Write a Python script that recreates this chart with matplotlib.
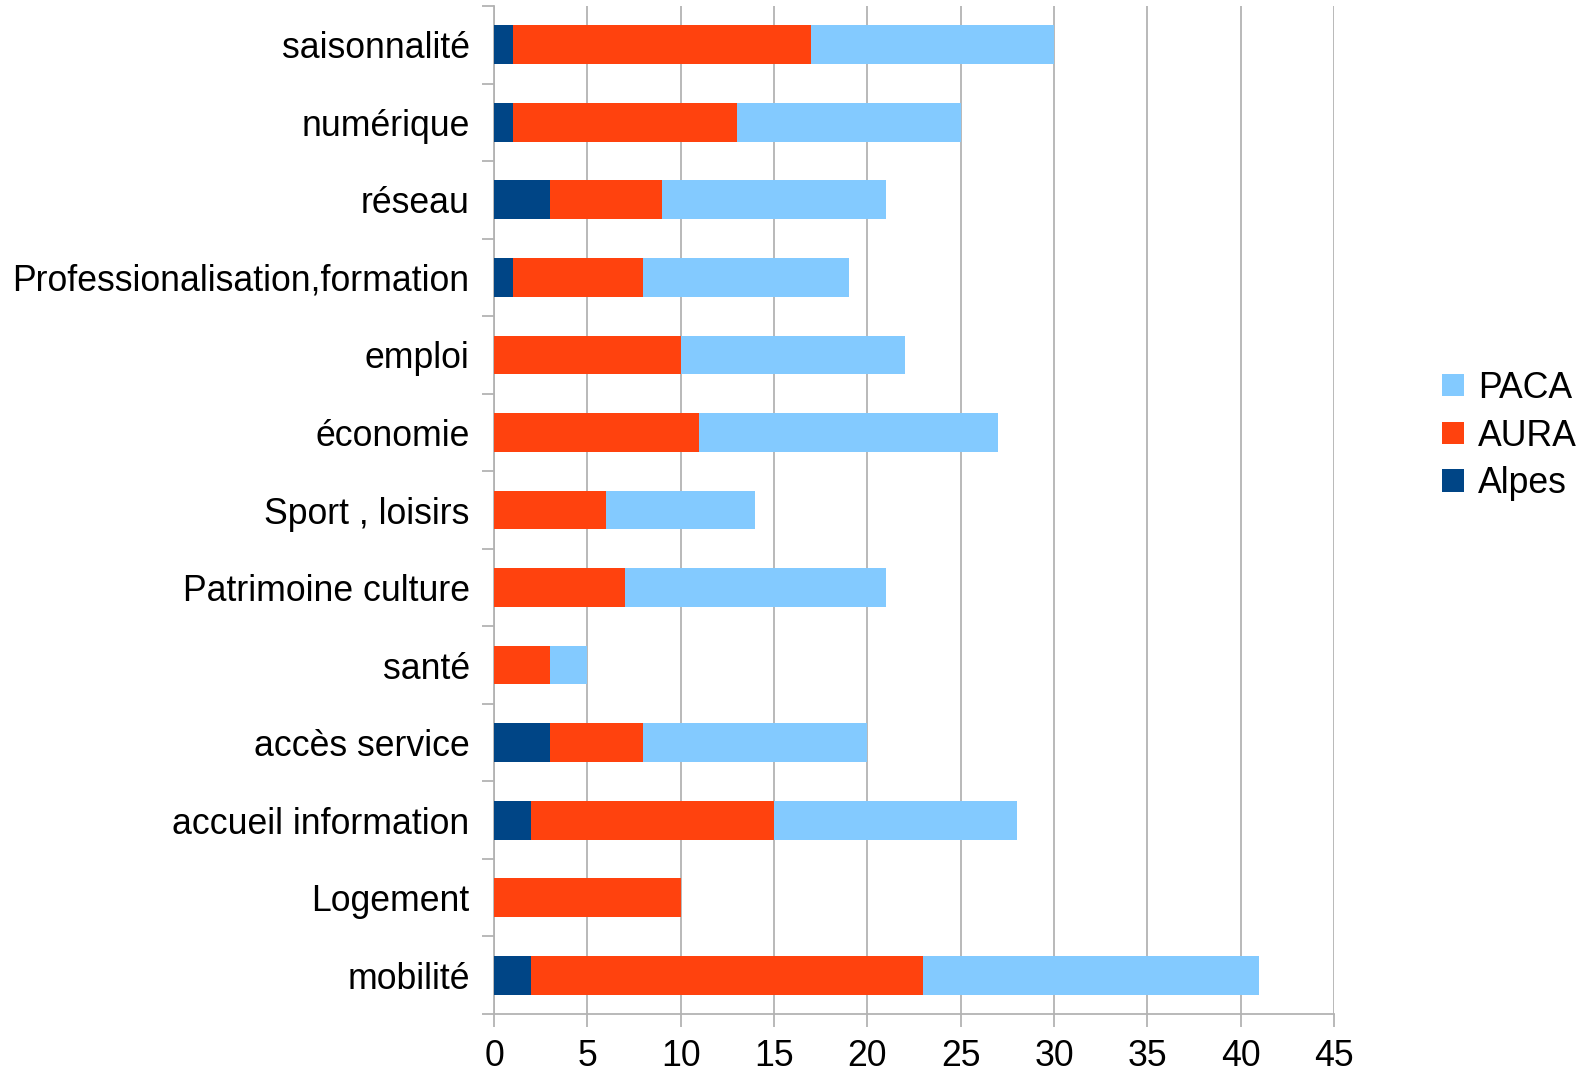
import matplotlib.pyplot as plt
from matplotlib.patches import Patch
import numpy as np

plt.rcParams["font.family"] = ["Liberation Sans", "DejaVu Sans"]

# categories, top to bottom
categories = [
    "saisonnalité", "numérique", "réseau", "Professionalisation,formation",
    "emploi", "économie", "Sport , loisirs", "Patrimoine culture", "santé",
    "accès service", "accueil information", "Logement", "mobilité",
]
alpes = [1, 1, 3, 1, 0, 0, 0, 0, 0, 3, 2, 0, 2]
aura = [16, 12, 6, 7, 10, 11, 6, 7, 3, 5, 13, 10, 21]
paca = [13, 12, 12, 11, 12, 16, 8, 14, 2, 12, 13, 0, 18]

C_ALPES = "#004586"
C_AURA = "#FF420E"
C_PACA = "#83CAFF"
GRID = "#b3b3b3"
FS = 25.7

fig = plt.figure(figsize=(15.77, 10.77), dpi=100)
ax = fig.add_axes([494 / 1577, 1 - 1014 / 1077, 840 / 1577, 1008 / 1077])

y = np.arange(len(categories))
alpes = np.array(alpes)
aura = np.array(aura)
paca = np.array(paca)
h = 0.5
ax.barh(y, alpes, height=h, color=C_ALPES, zorder=3)
ax.barh(y, aura, left=alpes, height=h, color=C_AURA, zorder=3)
ax.barh(y, paca, left=alpes + aura, height=h, color=C_PACA, zorder=3)

ax.set_xlim(0, 45)
ax.set_ylim(len(categories) - 0.5, -0.5)
ax.set_xticks(np.arange(0, 46, 5))
ax.set_yticks(y)
ax.set_yticklabels(categories)
ax.set_yticks(np.arange(-0.5, len(categories), 1), minor=True)
ax.tick_params(axis="y", which="major", length=0, pad=17.5, labelsize=FS)
ax.tick_params(axis="y", which="minor", length=9, color=GRID, width=1.3)
ax.tick_params(axis="x", length=9, color=GRID, width=1.3, pad=9, labelsize=FS)

ax.grid(True, axis="x", color=GRID, linewidth=1.3, zorder=0)
for side in ["top", "right"]:
    ax.spines[side].set_visible(False)
for side in ["left", "bottom"]:
    ax.spines[side].set_color(GRID)
    ax.spines[side].set_linewidth(1.3)

handles = [
    Patch(facecolor=C_PACA, label="PACA"),
    Patch(facecolor=C_AURA, label="AURA"),
    Patch(facecolor=C_ALPES, label="Alpes"),
]
fig.legend(handles=handles, loc="center left", bbox_to_anchor=(1428 / 1577, 1 - 436 / 1077),
           frameon=False, fontsize=FS, handlelength=0.6, handleheight=0.6,
           handletextpad=0.4, labelspacing=0.36, borderaxespad=0)

fig.savefig("out.png", dpi=100)
